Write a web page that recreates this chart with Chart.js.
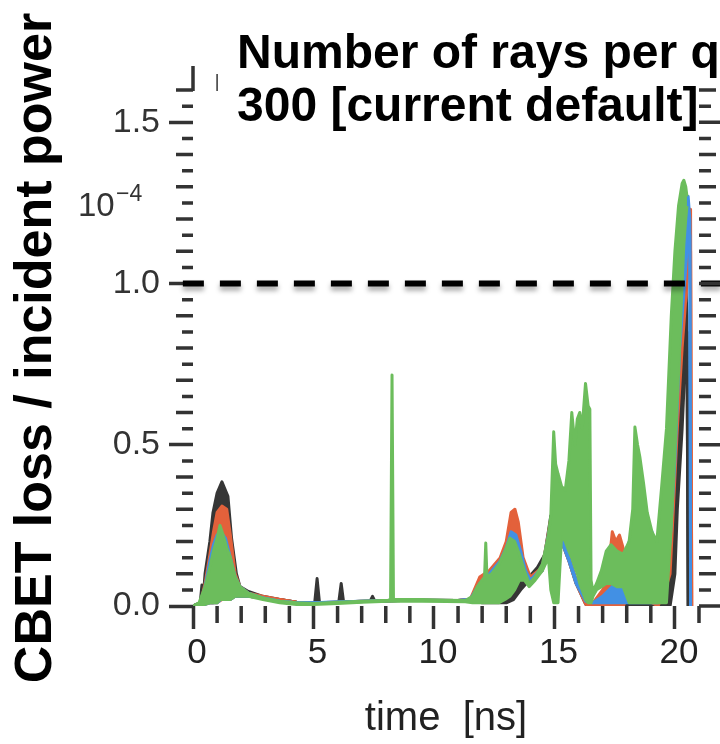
<!DOCTYPE html>
<html>
<head>
<meta charset="utf-8">
<script src="https://cdn.jsdelivr.net/npm/chart.js@4.4.1/dist/chart.umd.min.js"></script>
<style>
  html, body { margin: 0; padding: 0; background: #fff; }
  #wrap { width: 720px; height: 744px; }
</style>
</head>
<body>
<div id="wrap"><canvas id="chart" width="720" height="744"></canvas></div>
<script>
// ─── Data ───────────────────────────────────────────────

const titleLines = ['Number of rays per q', '300 [current default]'];
const scaleNote  = ['10', '\u22124'];

// dashed reference level
const refT = [-0.42, 21.9];
const refV = [1.0, 1.0];

// each series: time [ns], upper and lower edge of the plotted band
const greenT  = [0, 0.25, 0.5, 0.7, 0.85, 1.0, 1.12, 1.25, 1.4, 1.55, 1.75, 1.95, 2.3, 2.9, 3.6, 4.3, 5.0, 6.0, 7.0, 8.1, 8.2, 8.26, 8.32, 8.4, 9.5, 10.5, 11.3, 11.6, 11.8, 12.0, 12.1, 12.15, 12.2, 12.4, 12.7, 12.95, 13.15, 13.35, 13.55, 13.75, 13.95, 14.2, 14.5, 14.75, 14.85, 14.97, 15.05, 15.15, 15.3, 15.45, 15.6, 15.72, 15.85, 15.95, 16.05, 16.15, 16.29, 16.4, 16.47, 16.52, 16.6, 16.75, 16.95, 17.15, 17.35, 17.6, 17.85, 18.1, 18.25, 18.34, 18.45, 18.55, 18.7, 18.85, 19.05, 19.25, 19.45, 19.65, 19.85, 20.0, 20.15, 20.3, 20.37, 20.45, 20.5];
const greenHi = [0, 0.01, 0.06, 0.12, 0.17, 0.21, 0.25, 0.22, 0.18, 0.15, 0.09, 0.06, 0.04, 0.025, 0.015, 0.01, 0.008, 0.012, 0.015, 0.018, 0.02, 0.716, 0.02, 0.02, 0.02, 0.018, 0.017, 0.03, 0.06, 0.08, 0.09, 0.195, 0.09, 0.1, 0.13, 0.17, 0.21, 0.2, 0.16, 0.11, 0.07, 0.09, 0.13, 0.22, 0.28, 0.54, 0.44, 0.41, 0.37, 0.36, 0.45, 0.6, 0.5, 0.58, 0.6, 0.55, 0.69, 0.62, 0.61, 0.08, 0.045, 0.07, 0.11, 0.17, 0.19, 0.17, 0.16, 0.2, 0.3, 0.555, 0.5, 0.46, 0.38, 0.29, 0.23, 0.2, 0.37, 0.55, 0.9, 1.1, 1.24, 1.31, 1.32, 1.3, 1.27];
const greenLo = [0, 0, 0.005, 0.01, 0.01, 0.01, 0.02, 0.02, 0.02, 0.02, 0.03, 0.03, 0.03, 0.02, 0.01, 0.005, 0.005, 0.008, 0.012, 0.015, 0.015, 0.015, 0.015, 0.015, 0.015, 0.014, 0.013, 0.01, 0.01, 0.01, 0.01, 0.01, 0.01, 0.01, 0.01, 0.02, 0.03, 0.05, 0.08, 0.08, 0.06, 0.08, 0.11, 0.15, 0.05, 0.01, 0.01, 0.01, 0.22, 0.2, 0.17, 0.15, 0.12, 0.1, 0.07, 0.05, 0.02, 0.01, 0.01, 0.01, 0.03, 0.05, 0.06, 0.07, 0.07, 0.06, 0.06, 0.01, 0.01, 0.01, 0.01, 0.01, 0.01, 0.01, 0.01, 0.01, 0.01, 0.01, 0.25, 0.48, 0.72, 1.0, 1.12, 1.2, 1.24];

const blueT  = [0, 0.3, 0.5, 0.7, 0.85, 1.0, 1.15, 1.35, 1.55, 1.75, 1.95, 2.3, 2.9, 3.6, 4.3, 5.0, 7.0, 9.0, 11.0, 11.5, 11.9, 12.3, 12.75, 13.0, 13.2, 13.4, 13.6, 13.8, 14.0, 14.5, 14.85, 15.1, 15.3, 15.6, 15.9, 16.3, 16.6, 17.0, 17.4, 17.8, 18.1, 18.3, 18.8, 19.05, 19.3, 19.6, 19.8, 20.0, 20.2, 20.4, 20.55, 20.62, 20.65];
const blueHi = [0, 0.005, 0.06, 0.14, 0.19, 0.22, 0.23, 0.21, 0.15, 0.09, 0.06, 0.04, 0.025, 0.015, 0.01, 0.01, 0.015, 0.018, 0.017, 0.02, 0.07, 0.1, 0.14, 0.18, 0.23, 0.22, 0.17, 0.11, 0.08, 0.12, 0.26, 0.3, 0.22, 0.15, 0.08, 0.02, 0.01, 0.03, 0.06, 0.1, 0.2, 0.12, 0.1, 0.23, 0.15, 0.2, 0.34, 0.7, 1.05, 1.25, 1.27, 1.2, 0];
const blueLo = [0, 0.005, 0.005, 0.01, 0.01, 0.01, 0.02, 0.02, 0.02, 0.03, 0.03, 0.03, 0.025, 0.015, 0.01, 0.01, 0.015, 0.018, 0.017, 0.02, 0.02, 0.02, 0.03, 0.04, 0.06, 0.08, 0.09, 0.09, 0.08, 0.11, 0.24, 0.28, 0.2, 0.14, 0.07, 0.015, 0.01, 0.01, 0.01, 0.01, 0.01, 0.01, 0.01, 0.01, 0.01, 0.1, 0.2, 0.45, 0.8, 1.0, 1.15, 1.15, 0];

const redT  = [0, 0.3, 0.5, 0.7, 0.85, 1.0, 1.2, 1.4, 1.55, 1.75, 1.95, 2.3, 2.9, 3.6, 4.3, 5.0, 6.0, 7.0, 9.0, 11.0, 11.5, 11.9, 12.3, 12.75, 13.0, 13.2, 13.36, 13.5, 13.7, 14.0, 14.5, 14.85, 15.1, 15.3, 15.6, 15.9, 16.3, 16.6, 17.0, 17.2, 17.4, 17.55, 17.7, 17.85, 18.0, 18.3, 18.8, 19.3, 19.6, 19.8, 19.9, 20.1, 20.3, 20.5, 20.65, 20.7];
const redHi = [0, 0.005, 0.07, 0.16, 0.23, 0.29, 0.31, 0.3, 0.22, 0.1, 0.06, 0.04, 0.03, 0.02, 0.012, 0.01, 0.012, 0.015, 0.018, 0.017, 0.02, 0.09, 0.11, 0.15, 0.2, 0.29, 0.3, 0.26, 0.15, 0.09, 0.12, 0.27, 0.3, 0.22, 0.15, 0.08, 0.01, 0.01, 0.05, 0.08, 0.23, 0.2, 0.22, 0.18, 0.1, 0.06, 0.06, 0.1, 0.2, 0.25, 0.41, 0.83, 1.05, 1.2, 1.23, 0];
const redLo = [0, 0.005, 0.005, 0.01, 0.01, 0.01, 0.02, 0.02, 0.02, 0.03, 0.03, 0.03, 0.025, 0.02, 0.012, 0.01, 0.012, 0.015, 0.018, 0.017, 0.02, 0.02, 0.02, 0.03, 0.04, 0.05, 0.08, 0.1, 0.1, 0.08, 0.11, 0.25, 0.28, 0.2, 0.14, 0.07, 0.005, 0, 0, 0, 0, 0, 0, 0, 0.02, 0.02, 0.02, 0, 0.05, 0.1, 0.25, 0.55, 0.8, 1.0, 1.1, 0];

const blackT  = [0, 0.3, 0.37, 0.42, 0.5, 0.7, 0.83, 1.0, 1.2, 1.45, 1.6, 1.8, 1.95, 2.3, 2.9, 3.6, 4.3, 5.05, 5.15, 5.25, 6.05, 6.15, 6.25, 7.35, 7.45, 7.55, 9.0, 11.0, 11.6, 12.0, 12.5, 13.0, 13.3, 13.6, 13.95, 14.3, 14.6, 14.85, 15.1, 15.3, 15.6, 15.9, 16.3, 16.6, 17.0, 17.3, 17.6, 18.0, 18.5, 19.0, 19.5, 19.8, 20.0, 20.1, 20.3, 20.45, 20.5, 20.55];
const blackHi = [0, 0.01, 0.065, 0.02, 0.1, 0.2, 0.29, 0.35, 0.385, 0.34, 0.21, 0.1, 0.06, 0.045, 0.03, 0.02, 0.012, 0.01, 0.085, 0.01, 0.012, 0.07, 0.012, 0.015, 0.03, 0.015, 0.018, 0.017, 0.02, 0.07, 0.11, 0.18, 0.22, 0.15, 0.09, 0.12, 0.16, 0.28, 0.3, 0.22, 0.15, 0.08, 0.01, 0, 0.02, 0.04, 0.03, 0.02, 0.05, 0.08, 0.1, 0.2, 0.3, 0.51, 0.75, 1.0, 0.9, 0];
const blackLo = [0, 0.01, 0.01, 0.01, 0.01, 0.01, 0.01, 0.02, 0.02, 0.02, 0.03, 0.03, 0.03, 0.03, 0.025, 0.02, 0.012, 0.01, 0.01, 0.01, 0.012, 0.012, 0.012, 0.015, 0.015, 0.015, 0.018, 0.017, 0.02, 0.01, 0.01, 0.01, 0.02, 0.05, 0.08, 0.11, 0.15, 0.26, 0.28, 0.2, 0.14, 0.07, 0.005, 0, 0, 0, 0, 0, 0, 0, 0, 0, 0.1, 0.3, 0.55, 0.8, 0.85, 0];

// axes
const xMin = 0, xMax = 21, xStep = 5;
const yMin = 0, yMax = 1.6, yStep = 0.5;

// ─── Style ──────────────────────────────────────────────

const FONT      = '"Liberation Sans", Arial, Helvetica, sans-serif';
const TICK_CLR  = '#333';
const TICK_W    = 3.5;
const COLORS = {
  green: '#6cbd5c',
  blue:  '#4290e4',
  red:   '#e3613b',
  black: '#363636',
};

Chart.defaults.font.family = FONT;

const pts = (t, v) => t.map((x, i) => ({ x, y: v[i] }));

function band(t, hi, lo, color) {
  const base = {
    borderColor: color,
    backgroundColor: color,
    borderWidth: 3,
    pointRadius: 0,
    tension: 0,
    borderJoinStyle: 'round',
  };
  return [
    { ...base, data: pts(t, hi), fill: '+1' },
    { ...base, data: pts(t, lo), fill: false },
  ];
}

// ─── Plugins ────────────────────────────────────────────

// soft shadow under the dashed reference line (dataset 0)
const lineShadow = {
  id: 'lineShadow',
  beforeDatasetDraw(chart, args) {
    if (args.index !== 0) return;
    const ctx = chart.ctx;
    ctx.save();
    ctx.shadowColor   = 'rgba(0,0,0,0.35)';
    ctx.shadowBlur    = 5;
    ctx.shadowOffsetY = 4;
  },
  afterDatasetDraw(chart, args) {
    if (args.index === 0) chart.ctx.restore();
  },
};

// minor ticks, right-hand axis ticks and the panel title
const frame = {
  id: 'frame',
  afterDraw(chart) {
    const { ctx, chartArea: a, scales: { x, y } } = chart;
    ctx.save();
    ctx.strokeStyle = TICK_CLR;
    ctx.lineWidth   = TICK_W;
    ctx.beginPath();

    // y: every 0.05, longer on 0.1
    for (let k = 0; k <= 32; k++) {
      const py = y.getPixelForValue(k * 0.05);
      if (k % 10 !== 0) {
        const len = k % 2 === 0 ? 17 : 11;
        ctx.moveTo(a.left - len, py);
        ctx.lineTo(a.left, py);
      }
      const rlen = k % 10 === 0 ? 22 : (k % 2 === 0 ? 17 : 12);
      ctx.moveTo(a.right, py);
      ctx.lineTo(a.right + rlen, py);
    }

    // x: every 1 ns
    for (let t = 1; t <= 21; t++) {
      if (t % 5 === 0) continue;
      const px = x.getPixelForValue(t);
      ctx.moveTo(px, a.bottom);
      ctx.lineTo(px, a.bottom + 17);
    }

    // stubs of the top axis
    const x0 = x.getPixelForValue(0);
    ctx.moveTo(x0, a.top + 1);
    ctx.lineTo(x0, a.top - 24);
    ctx.stroke();

    ctx.lineWidth = 1.5;
    ctx.beginPath();
    const x1 = x.getPixelForValue(1);
    ctx.moveTo(x1, a.top + 1);
    ctx.lineTo(x1, a.top - 16);
    ctx.stroke();

    // title
    ctx.fillStyle    = '#000';
    ctx.textAlign    = 'left';
    ctx.textBaseline = 'alphabetic';
    ctx.font = `bold 48px ${FONT}`;
    ctx.fillText(titleLines[0], 237, 68);
    ctx.fillText(titleLines[1], 237, 121);

    // 10^-4 multiplier
    ctx.fillStyle = '#333';
    ctx.font = `33px ${FONT}`;
    ctx.fillText(scaleNote[0], 78, 216);
    ctx.font = `23px ${FONT}`;
    ctx.fillText(scaleNote[1], 116, 201);

    ctx.restore();
  },
};

// ─── Chart ──────────────────────────────────────────────

new Chart(document.getElementById('chart'), {
  type: 'line',
  data: {
    datasets: [
      {
        data: pts(refT, refV),
        borderColor: '#000',
        borderWidth: 6,
        borderDash: [21, 16],
        pointRadius: 0,
        fill: false,
        clip: false,
      },
      ...band(greenT, greenHi, greenLo, COLORS.green),
      ...band(blueT,  blueHi,  blueLo,  COLORS.blue),
      ...band(redT,   redHi,   redLo,   COLORS.red),
      ...band(blackT, blackHi, blackLo, COLORS.black),
    ],
  },
  options: {
    responsive: false,
    animation: false,
    events: [],
    layout: { padding: { top: 90, right: 21, left: 0, bottom: 0 } },
    plugins: {
      legend:  { display: false },
      tooltip: { enabled: false },
    },
    scales: {
      x: {
        type: 'linear',
        min: xMin,
        max: xMax,
        afterFit: s => { s.height = 138; },
        border: { display: false },
        grid: {
          drawOnChartArea: false,
          tickLength: 23,
          tickWidth: TICK_W,
          tickColor: TICK_CLR,
        },
        ticks: {
          stepSize: xStep,
          includeBounds: false,
          maxRotation: 0,
          autoSkip: false,
          padding: 3,
          labelOffset: 4,
          color: '#222',
          font: { size: 35 },
        },
        title: {
          display: true,
          text: 'time  [ns]',
          color: '#222',
          font: { size: 40 },
          padding: { top: 0, bottom: 1 },
        },
      },
      y: {
        min: yMin,
        max: yMax,
        afterFit: s => { s.width = 193; },
        border: { display: false },
        grid: {
          drawOnChartArea: false,
          tickLength: 24,
          tickWidth: TICK_W,
          tickColor: TICK_CLR,
        },
        ticks: {
          stepSize: yStep,
          includeBounds: false,
          padding: 9,
          color: '#333',
          font: { size: 34 },
          callback: v => v.toFixed(1),
        },
        title: {
          display: true,
          text: 'CBET loss / incident power',
          color: '#000',
          font: { size: 52, weight: 'bold' },
          padding: { top: 5, bottom: 0 },
        },
      },
    },
  },
  plugins: [lineShadow, frame],
});
</script>
</body>
</html>
